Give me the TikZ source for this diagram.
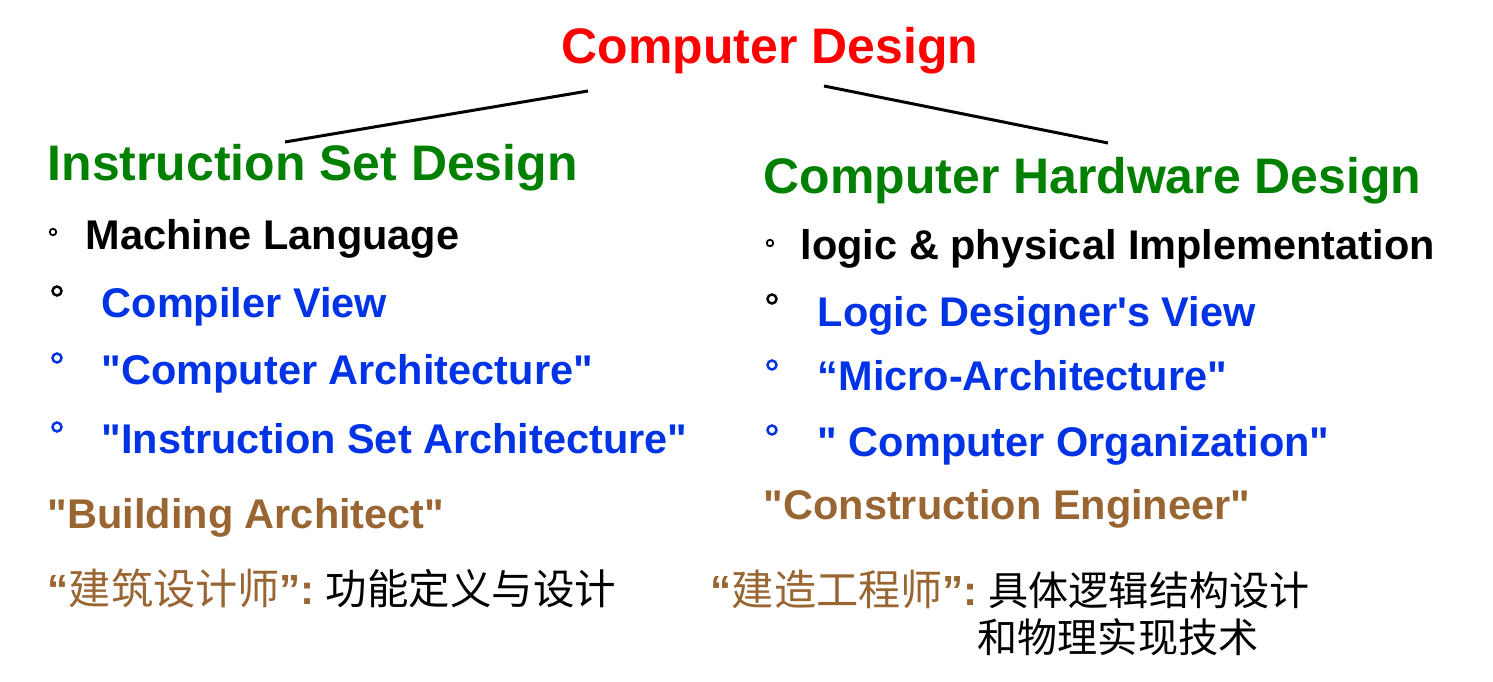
\documentclass[tikz,border=0pt]{standalone}
\usepackage{fontspec}
\setmainfont{Liberation Sans}[Ligatures=TeXOff]
\newfontfamily\cjk{Noto Sans CJK SC}
\definecolor{cdred}{RGB}{255,0,0}
\definecolor{cdgreen}{RGB}{0,128,0}
\definecolor{cdblue}{RGB}{0,51,230}
\definecolor{cdbrown}{RGB}{153,102,51}
\tikzset{
  big/.style={font=\fontsize{14.2}{17}\selectfont\bfseries, inner sep=0pt, anchor=base west},
  item/.style={font=\fontsize{11.8}{14}\selectfont\bfseries, inner sep=0pt, anchor=base west},
  cn/.style={font=\fontsize{12}{14}\selectfont, inner sep=0pt, anchor=base west},
  cnsmall/.style={font=\fontsize{11.4}{14}\selectfont\cjk, inner sep=0pt, anchor=base west},
  dot/.style={circle, draw, inner sep=0pt, minimum size=0.09cm, line width=0.7pt},
  smalldot/.style={dot, minimum size=0.065cm, line width=0.5pt},
  link/.style={line width=0.85pt}
}
\begin{document}
\begin{tikzpicture}[x=0.01cm, y=-0.01cm]
            \useasboundingbox (0,0) rectangle (1493,682);
            \node[big, anchor=base, text=cdred] (cd) at (770,64){Computer Design};
            \node[big, text=cdgreen] (isd) at (47,181){Instruction Set Design};
            \node[big, text=cdgreen] (chd) at (763,194){Computer Hardware Design};

            % instruction set side
            \node[smalldot] (b1) at (53,232){};
            \node[item] (ml) at (85,250){Machine Language};
            \node[dot] (b2) at (57,291){};
            \node[item, text=cdblue] (cv) at (101,318){Compiler View};
            \node[dot, draw=cdblue] (b3) at (57,358){};
            \node[item, text=cdblue] (ca) at (101,385){"Computer Architecture"};
            \node[dot, draw=cdblue] (b4) at (57,427){};
            \node[item, text=cdblue] (isa) at (101,453){"Instruction Set Architecture"};
            \node[item, text=cdbrown] (ba) at (47,528){"Building Architect"};
            \node[cn, text=cdbrown] (bacn) at (47,604){{\bfseries “}{\cjk 建筑设计师}{\bfseries ”:}};
            \node[cnsmall, font=\fontsize{11.8}{14}\selectfont\cjk] (bafn) at (325,604){功能定义与设计};

            % hardware side
            \node[smalldot] (b5) at (770,243){};
            \node[item] (lp) at (800,260){logic \& physical Implementation};
            \node[dot] (b6) at (772,299){};
            \node[item, text=cdblue] (ld) at (817,327){Logic Designer's View};
            \node[dot, draw=cdblue] (b7) at (772,365){};
            \node[item, text=cdblue] (ma) at (817,390){“Micro-Architecture"};
            \node[dot, draw=cdblue] (b8) at (772,430){};
            \node[item, text=cdblue] (co) at (817,456){" Computer Organization"};
            \node[item, text=cdbrown] (ce) at (763,520){"Construction Engineer"};
            \node[cn, text=cdbrown] (cecn) at (710,606){{\bfseries “}{\cjk 建造工程师}{\bfseries ”:}};
            \node[cnsmall] (cefn) at (988,606){具体逻辑结构设计};
            \node[cnsmall] (cefn2) at (977,652){和物理实现技术};

            \coordinate (cdl) at (588,91);
            \coordinate (cdr) at (824,86);
            \coordinate (isdt) at (285,142);
            \coordinate (chdt) at (1108,143);
            \draw[link] (cdl) -- (isdt);
            \draw[link] (cdr) -- (chdt);
        \end{tikzpicture}
\end{document}
